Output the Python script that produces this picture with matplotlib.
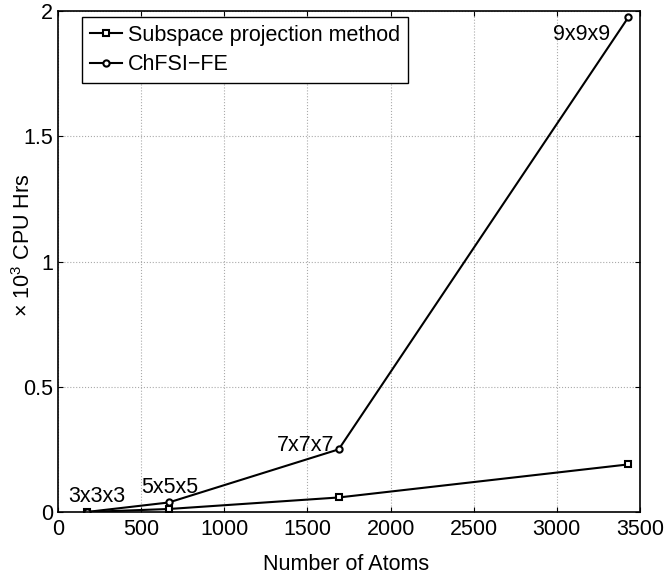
import numpy as np
import matplotlib
matplotlib.use("Agg")
import matplotlib.pyplot as plt

plt.rcParams['font.family'] = ['Liberation Sans', 'DejaVu Sans']
plt.rcParams['mathtext.fontset'] = 'custom'
plt.rcParams['mathtext.rm'] = 'Liberation Sans'
plt.rcParams['mathtext.it'] = 'Liberation Sans:italic'

# data
atoms = [172, 666, 1688, 3430]
sizes = ["3x3x3", "5x5x5", "7x7x7", "9x9x9"]
subspace = [0.0, 0.012, 0.058, 0.19]
chfsi = [0.0, 0.038, 0.25, 1.975]

FS = 15.5

fig = plt.figure(figsize=(6.7, 5.81), dpi=100)
# axes box: x 58..640 px, y 10.7..512 px
ax = fig.add_axes([58 / 670, 1 - 512 / 581, 582 / 670, 501 / 581])

ax.plot(atoms, subspace, 'k-', marker='s', markersize=4.5, markerfacecolor='white',
        markeredgewidth=1.5, linewidth=1.5, label='Subspace projection method')
ax.plot(atoms, chfsi, 'k-', marker='o', markersize=4.5, markerfacecolor='white',
        markeredgewidth=1.5, linewidth=1.5, label='ChFSI\u2212FE')

# size labels next to the ChFSI points (offsets in points)
offsets = [(-13, 7, 'left'), (-19.5, 6.5, 'left'), (-3, -1.5, 'right'), (-13, -16.5, 'right')]
for x, y, s, (dx, dy, ha) in zip(atoms, chfsi, sizes, offsets):
    ax.annotate(s, (x, y), xytext=(dx, dy), textcoords='offset points',
                ha=ha, va='baseline', fontsize=FS)

ax.set_xlim(0, 3500)
ax.set_ylim(0, 2)
ax.set_xticks(np.arange(0, 3501, 500))
ax.set_yticks([0, 0.5, 1, 1.5, 2])
ax.set_yticklabels(['0', '0.5', '1', '1.5', '2'])
ax.tick_params(direction='in', labelsize=FS, length=3.6, width=0.8, top=True, right=True)
ax.tick_params(axis='x', pad=5)
ax.tick_params(axis='y', pad=3.5)
ax.grid(True, linestyle=':', color='#aaaaaa', linewidth=0.8)
for sp in ax.spines.values():
    sp.set_linewidth(1.2)

fig.text(346 / 670, 1 - 565 / 581, 'Number of Atoms', ha='center', va='center', fontsize=FS)
fig.text(24 / 670, 1 - 245 / 581, r'$\times$ 10$^3$ CPU Hrs', ha='center', va='center',
         rotation=90, fontsize=FS)

leg = ax.legend(loc='upper left', bbox_to_anchor=(24 / 582, 1 - 6.3 / 501), borderaxespad=0,
                fontsize=FS, fancybox=False, framealpha=1, edgecolor='black',
                handlelength=1.5, handletextpad=0.3, borderpad=0.35, labelspacing=0.4)
leg.get_frame().set_linewidth(1.0)

fig.savefig('out.png', dpi=100)
